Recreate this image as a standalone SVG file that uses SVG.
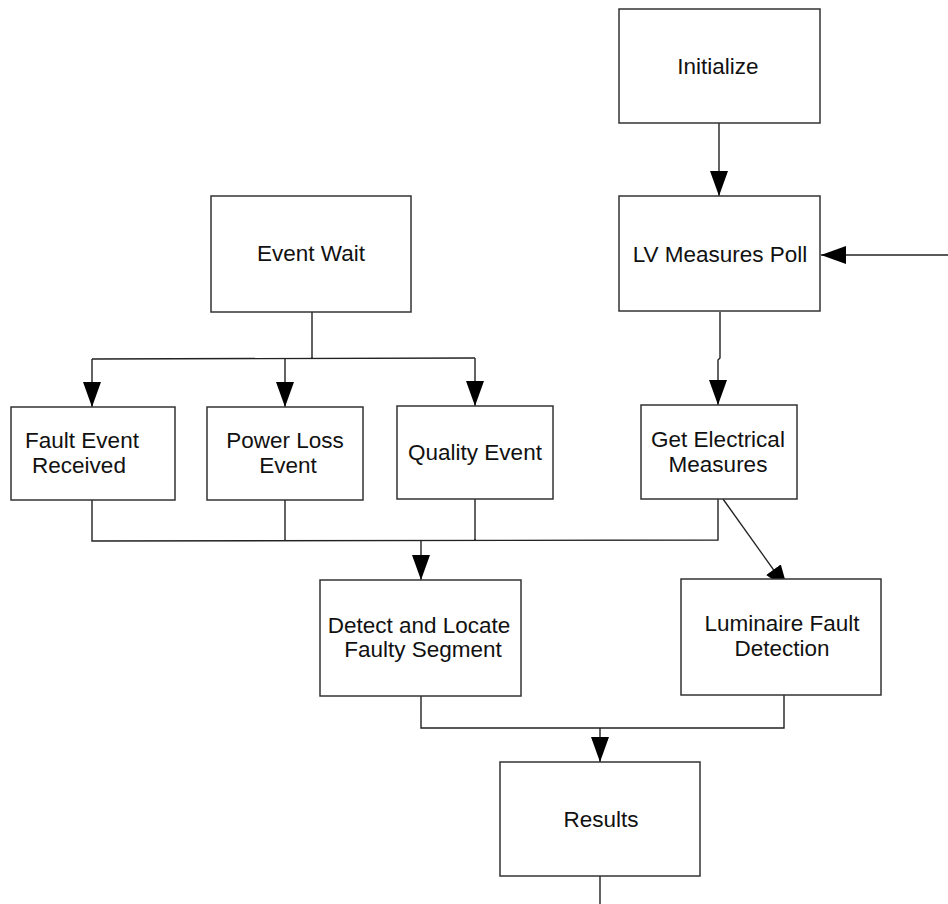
<svg xmlns="http://www.w3.org/2000/svg" width="948" height="904" viewBox="0 0 948 904">
  <style>
    .box { fill: #ffffff; stroke: #333333; stroke-width: 1.5; }
    .lbl { font-family: "Liberation Sans", Arial, sans-serif; font-size: 22.5px; fill: #111111; text-anchor: middle; }
    .wire { fill: none; stroke: #222222; stroke-width: 1.4; }
    .arrow { fill: none; stroke: #222222; stroke-width: 1.4; marker-end: url(#head); }
  </style>
  <defs>
    <marker id="head" markerUnits="userSpaceOnUse" markerWidth="27" markerHeight="19" refX="25" refY="9" orient="auto">
      <path d="M0,0 L25,9 L0,18 z" fill="#000000"/>
    </marker>
  </defs>
  <rect width="948" height="904" fill="#ffffff"/>

  <g id="connectors">
    <!-- Initialize to LV Measures Poll -->
    <path class="arrow" d="M719,123 L719,196"/>
    <!-- loop-back entry from the right -->
    <path class="arrow" d="M948,255 L821,255"/>
    <!-- LV Measures Poll to Get Electrical Measures -->
    <path class="arrow" d="M720,312 L720,358 L718,360 L718,405"/>
    <!-- Event Wait fan-out -->
    <path class="wire" d="M312,312 L312,358 M92,359 L475,358"/>
    <path class="arrow" d="M92,359 L92,407"/>
    <path class="arrow" d="M285,359 L285,407"/>
    <path class="arrow" d="M475,358 L475,406"/>
    <!-- event merge to Detect and Locate -->
    <path class="wire" d="M92,500 L92,541 L718,540 L718,499 M285,500 L285,541 M475,499 L475,540"/>
    <path class="arrow" d="M421,540 L421,580"/>
    <!-- Get Electrical Measures to Luminaire Fault Detection -->
    <path class="arrow" d="M723,499 L788,590"/>
    <!-- merge to Results -->
    <path class="wire" d="M421,696 L421,728 L784,728 L784,695"/>
    <path class="arrow" d="M600,728 L600,762"/>
    <!-- Results outgoing -->
    <path class="wire" d="M600,876 L600,904"/>
  </g>

  <g id="initialize">
    <rect class="box" x="619" y="9" width="201" height="114"/>
    <text class="lbl" x="718" y="74">Initialize</text>
  </g>
  <g id="lv-measures-poll">
    <rect class="box" x="619" y="196" width="201" height="115"/>
    <text class="lbl" x="720" y="262">LV Measures Poll</text>
  </g>
  <g id="event-wait">
    <rect class="box" x="211" y="196" width="200" height="116"/>
    <text class="lbl" x="311" y="261">Event Wait</text>
  </g>
  <g id="fault-event-received">
    <rect class="box" x="11" y="407" width="164" height="93"/>
    <text class="lbl" x="82" y="448">Fault Event</text>
    <text class="lbl" x="79" y="473">Received</text>
  </g>
  <g id="power-loss-event">
    <rect class="box" x="207" y="407" width="156" height="93"/>
    <text class="lbl" x="285" y="448">Power Loss</text>
    <text class="lbl" x="288" y="473">Event</text>
  </g>
  <g id="quality-event">
    <rect class="box" x="397" y="406" width="156" height="93"/>
    <text class="lbl" x="475" y="460">Quality Event</text>
  </g>
  <g id="get-electrical-measures">
    <rect class="box" x="641" y="405" width="156" height="94"/>
    <text class="lbl" x="718" y="447">Get Electrical</text>
    <text class="lbl" x="718" y="472">Measures</text>
  </g>
  <g id="detect-and-locate">
    <rect class="box" x="320" y="580" width="201" height="116"/>
    <text class="lbl" x="419" y="633">Detect and Locate</text>
    <text class="lbl" x="423" y="657">Faulty Segment</text>
  </g>
  <g id="luminaire-fault-detection">
    <rect class="box" x="681" y="579" width="200" height="116"/>
    <text class="lbl" x="782" y="631">Luminaire Fault</text>
    <text class="lbl" x="782" y="656">Detection</text>
  </g>
  <g id="results">
    <rect class="box" x="500" y="762" width="200" height="114"/>
    <text class="lbl" x="601" y="827">Results</text>
  </g>
</svg>
